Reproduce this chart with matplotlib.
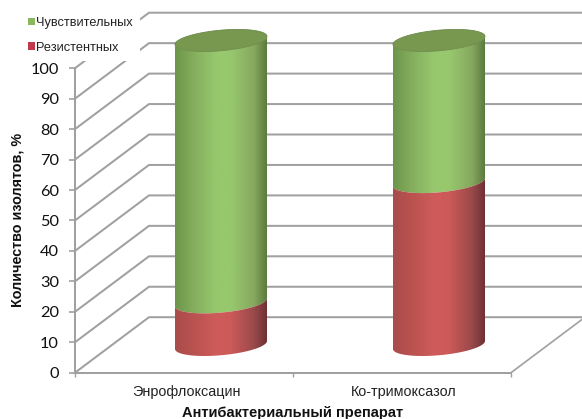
import numpy as np
import matplotlib
matplotlib.use("Agg")
import matplotlib.pyplot as plt
from matplotlib.colors import LinearSegmentedColormap
from matplotlib.patches import Patch, PathPatch, Polygon
from matplotlib.path import Path

# Data
drugs = ["Энрофлоксацин", "Ко-тримоксазол"]
resistant = [14.0, 53.5]
sensitive = [86.0, 46.5]
value_ticks = list(range(0, 101, 10))
series_names = ["Чувствительных", "Резистентных"]

# Styling
GRID = "#a0a0a0"
SANS = "Liberation Sans"
green_stops = ["#6d954a", "#86b05f", "#98c86e", "#98c86e", "#86a95f", "#57783a"]
red_stops = ["#a94c4a", "#bb5351", "#cf5c5a", "#cc5a58", "#9a4a4a", "#6c2f31"]
stop_pos = [0.0, 0.22, 0.45, 0.6, 0.85, 1.0]
CAP = "#78984f"
CAP_RIM = "#6b8a48"

W, H = 582, 419
fig = plt.figure(figsize=(W / 100, H / 100), dpi=100, facecolor="white")
ax = fig.add_axes([0, 0, 1, 1])

# Scale: one category is 218 px wide, one value unit is 3.045 px tall
PX_X, PX_Y = 218.0, 3.045
X0, Y0 = 75.0, 372.7
ax.set_xlim(-X0 / PX_X, (W - X0) / PX_X)
ax.set_ylim((Y0 - H) / PX_Y, Y0 / PX_Y)

# Floor depth of the 3-D box and the cylinder proportions, in data units
DX, DY = 74 / PX_X, 55.5 / PX_Y
RX, RY, SKEW = 46 / PX_X, 10.3 / PX_Y, 4 / PX_Y
n_cat = len(drugs)

# Back wall gridlines and their diagonals down the side wall
for v in value_ticks:
    ax.plot([0, DX, 3.0], [v, v + DY, v + DY], color=GRID, lw=1.45, zorder=1,
            solid_joinstyle="round")
ax.plot([n_cat, n_cat + DX], [0, DY], color=GRID, lw=1.2, zorder=1)


def rim(cx, v, t):
    """Points of the tilted cylinder rim at height v for angles t."""
    return (cx + DX / 2 + RX * np.cos(t),
            v + DY / 2 + SKEW * np.cos(t) + RY * np.sin(t))


def side(cx, v0, v1, stops):
    """Cylinder wall between two heights, shaded across its width."""
    t = np.linspace(np.pi, 2 * np.pi, 60)
    xb, yb = rim(cx, v0, t)
    xt, yt = rim(cx, v1, t[::-1])
    verts = np.column_stack([np.r_[xb, xt], np.r_[yb, yt]])
    outline = Polygon(verts, closed=True, facecolor="none", edgecolor="none",
                      transform=ax.transData)
    ax.add_patch(outline)
    cmap = LinearSegmentedColormap.from_list("wall", list(zip(stop_pos, stops)))
    img = ax.imshow(np.linspace(0, 1, 256)[None, :], cmap=cmap, aspect="auto",
                    extent=(cx + DX / 2 - RX, cx + DX / 2 + RX, v0 - 10, v1 + 30),
                    zorder=3, interpolation="bilinear")
    img.set_clip_path(outline)


for i in range(n_cat):
    cx = i + 0.5
    top = resistant[i] + sensitive[i]
    side(cx, resistant[i], top, green_stops)
    side(cx, 0, resistant[i], red_stops)
    t = np.linspace(0, 2 * np.pi, 120)
    xc, yc = rim(cx, top, t)
    ax.add_patch(PathPatch(Path(np.column_stack([xc, yc])), facecolor=CAP,
                           edgecolor=CAP_RIM, lw=0.6, zorder=4))

ax.set_xlim(-X0 / PX_X, (W - X0) / PX_X)
ax.set_ylim((Y0 - H) / PX_Y, Y0 / PX_Y)

# Front axes
ax.patch.set_visible(False)
for name in ("top", "right"):
    ax.spines[name].set_visible(False)
for name in ("left", "bottom"):
    ax.spines[name].set_position(("data", 0))
    ax.spines[name].set_color(GRID)
    ax.spines[name].set_linewidth(1.45)
    ax.spines[name].set_zorder(1)
ax.spines["left"].set_bounds(0, 100)
ax.spines["bottom"].set_bounds(0, n_cat)

ax.set_yticks(value_ticks)
ax.tick_params(axis="y", length=4, width=1.2, color=GRID, pad=7.5,
               labelsize=11.8, labelcolor="#111111")
for lab in ax.get_yticklabels():
    lab.set_fontfamily("Lato")

ax.set_xticks(range(n_cat + 1))
ax.set_xticklabels([])
ax.set_xticks([i + 0.51 for i in range(n_cat)], labels=drugs, minor=True)
ax.tick_params(axis="x", which="major", length=3, width=1.0, color=GRID)
ax.tick_params(axis="x", which="minor", length=0, pad=8.5, labelsize=10.4,
               labelcolor="#222222")
for lab in ax.get_xticklabels(minor=True):
    lab.set_fontfamily(SANS)

ax.text(18 / W, 1 - 220 / H, "Количество изолятов, %", rotation=90, ha="center",
        va="center", transform=ax.transAxes, family=SANS, weight="bold",
        fontsize=10.4, color="#111111")
ax.text(293 / W, 1 - 412.5 / H, "Антибактериальный препарат", ha="center",
        va="center", transform=ax.transAxes, family=SANS, weight="bold",
        fontsize=10.5, color="#111111")

# Legend sits on a white panel over the top of the side wall
handles = [Patch(facecolor="#8cb85c", edgecolor="none"),
           Patch(facecolor="#bf3a4c", edgecolor="none")]
leg = ax.legend(handles, series_names, loc="upper left",
                bbox_to_anchor=(21 / W, 1 - 10 / H), bbox_transform=ax.transAxes,
                frameon=True, framealpha=1, facecolor="white", edgecolor="none",
                fancybox=False, borderpad=0.55, borderaxespad=0,
                handlelength=0.55, handleheight=0.55, handletextpad=0.1,
                labelspacing=1.0, labelcolor="#222222",
                prop={"family": SANS, "size": 9.2})
leg.set_zorder(2)

fig.savefig("out.png", dpi=100)
